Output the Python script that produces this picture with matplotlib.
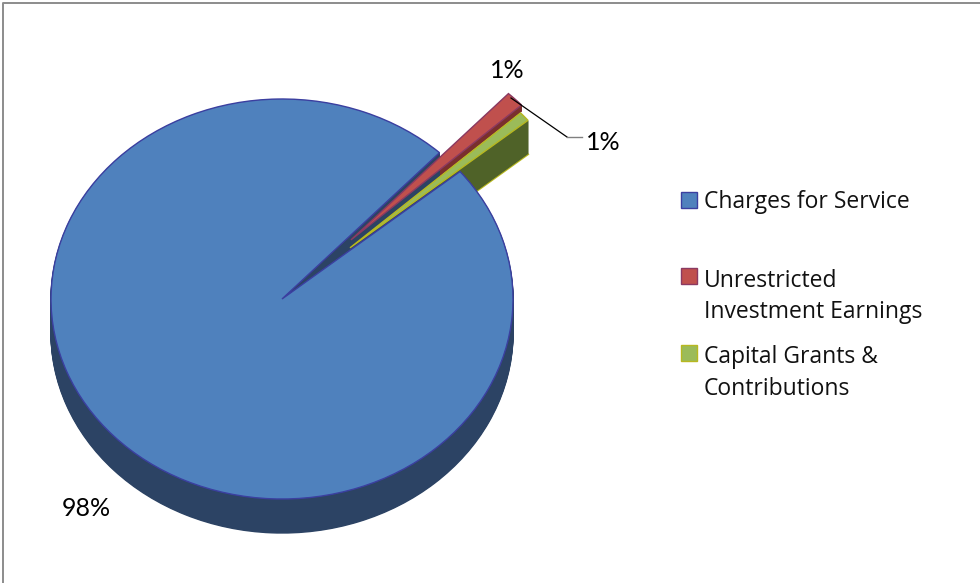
import numpy as np
import matplotlib
matplotlib.use('Agg')
import matplotlib.pyplot as plt
from matplotlib.patches import Rectangle

plt.rcParams['font.family'] = ['Lato', 'DejaVu Sans']

categories = ['Charges for Service', 'Unrestricted\nInvestment Earnings', 'Capital Grants &\nContributions']
shares = [97.94, 1.28, 0.78]
pct_labels = ['98%', '1%', '1%']

top_colors = ['#4f81bd', '#c0504d', '#9bbb59']
side_colors = ['#2c4364', '#7a2f2d', '#4f6228']
edge_colors = ['#3b3fa0', '#8b3a62', '#b8b820']

W, H = 980, 583
cx, cy, rx, ry = 282, 299, 231, 200
depth = 34

fig = plt.figure(figsize=(W / 100, H / 100), dpi=100)
ax = fig.add_axes([0, 0, 1, 1])
explode = [0, 0.42, 0.39]


def layer(dy, idx, kind):
    # one pie per layer, only wedge idx stays visible
    wedges, _ = ax.pie(shares, explode=explode, startangle=39.6, counterclock=False,
                       center=(0, -dy / ry), radius=1)
    for i, w in enumerate(wedges):
        if i != idx:
            w.remove()
        elif kind == 'side':
            w.set(facecolor=side_colors[i], edgecolor=side_colors[i], linewidth=1)
        elif kind == 'rim':
            w.set(facecolor=side_colors[i], edgecolor=edge_colors[i], linewidth=1.4)
        else:
            w.set(facecolor=top_colors[i], edgecolor=edge_colors[i], linewidth=1)


# walls first, back to front
for d in [6, 5, 4, 3, 2, 1]:
    layer(d, 1, 'side')
layer(depth, 2, 'rim')
for d in np.arange(depth - 1, 0, -1):
    layer(d, 2, 'side')
for d in np.arange(depth, 0, -1):
    layer(d, 0, 'side')
layer(0, 0, 'top')
layer(0, 2, 'top')
layer(0, 1, 'top')

ax.set_aspect('auto')
ax.set_xlim(-cx / rx, (W - cx) / rx)
ax.set_ylim((cy - H) / ry, cy / ry)
ax.axis('off')

# overlay in pixels for texts, legend and frame
ov = fig.add_axes([0, 0, 1, 1], facecolor='none')
ov.set_xlim(0, W)
ov.set_ylim(H, 0)
ov.axis('off')

ov.plot([3, 3, W], [H, 3, 3], color='#8c8c8c', lw=1.4)

ov.text(86, 509, pct_labels[0], fontsize=18, color='black', ha='center', va='center')
ov.text(507, 70, pct_labels[1], fontsize=18, color='black', ha='center', va='center')
ov.text(603, 142, pct_labels[2], fontsize=18, color='black', ha='center', va='center')
ov.plot([511, 567], [98, 137], color='black', lw=0.9)
ov.plot([567, 582], [137, 137], color='#808080', lw=1.0)

legend_y = [202, 296.5, 373]
swatch_y = [192, 268, 345]
for name, y, sy, c, e in zip(categories, legend_y, swatch_y, top_colors, edge_colors):
    ov.add_patch(Rectangle((681, sy), 16, 16, facecolor=c, edgecolor=e, lw=1))
    ov.text(704, y, name, family='Open Sans', fontsize=16.5, color='#111111',
            ha='left', va='center', linespacing=1.4)

fig.savefig('out.png', dpi=100)
